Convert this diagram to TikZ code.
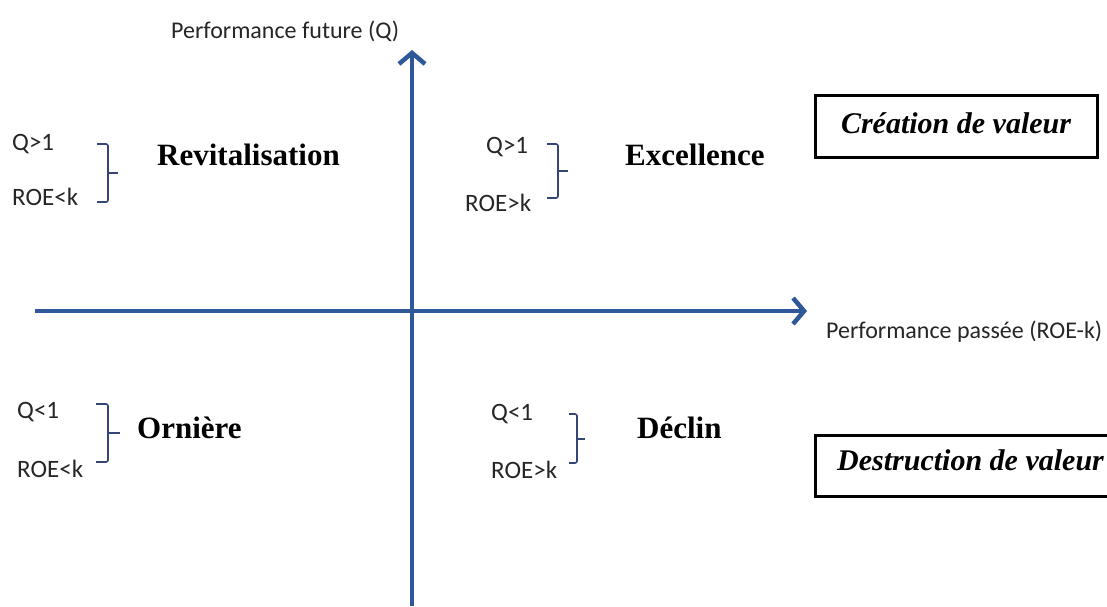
\documentclass[tikz,border=0pt]{standalone}
\usepackage{fontspec}
\usetikzlibrary{arrows.meta}
\newfontfamily\calibfont{Carlito}
\newfontfamily\timesfont{Liberation Serif}
\definecolor{axisblue}{RGB}{47,88,152}
\definecolor{bracecol}{RGB}{52,70,120}
\tikzset{
  axisline/.style={axisblue, line width=4.5pt, -{Straight Barb[length=11pt,width=26pt]}},
  condtext/.style={anchor=base west, inner sep=0pt, font=\calibfont\fontsize{25}{29}\selectfont, text=black!85},
  quadtext/.style={anchor=base west, inner sep=0pt, font=\timesfont\bfseries\fontsize{31}{35}\selectfont},
  axislabel/.style={anchor=base west, inner sep=0pt, font=\calibfont\fontsize{24}{28}\selectfont, text=black!85},
  valuebox/.style={draw=black, line width=3pt},
  valuetext/.style={inner sep=0pt, font=\timesfont\bfseries\itshape\fontsize{30}{34}\selectfont},
  bracket/.style={bracecol, line width=1.6pt, rounded corners=2pt},
}
\begin{document}
\begin{tikzpicture}[x=1pt,y=-1pt]
\useasboundingbox[fill=white] (0,0) rectangle (1107,606);

% axes
\coordinate (ybot) at (412,606);
\coordinate (ytop) at (412,50);
\coordinate (xleft) at (35,311);
\coordinate (xright) at (807,311);
\draw[axisline] (xleft) -- (xright);
\draw[axisline] (ybot) -- (ytop);

% axis labels
\node[axislabel] (ylab) at (171,38) {Performance future (Q)};
\node[axislabel] (xlab) at (826,338) {Performance passée (ROE-k)};

% top-left quadrant
\node[condtext] (tlq) at (12,150) {Q>1};
\node[condtext] (tlr) at (12,205) {ROE<k};
\draw[bracket] (97,144) -- (108,144) -- (108,202) -- (97,202);
\draw[bracket] (108,173) -- (118,173);
\node[quadtext] (revit) at (157,165) {Revitalisation};

% top-right quadrant
\node[condtext] (trq) at (486,153) {Q>1};
\node[condtext] (trr) at (465,211) {ROE>k};
\draw[bracket] (547,144) -- (558,144) -- (558,198) -- (547,198);
\draw[bracket] (558,171) -- (568,171);
\node[quadtext] (excel) at (625,165) {Excellence};

% bottom-left quadrant
\node[condtext] (blq) at (17,418) {Q<1};
\node[condtext] (blr) at (17,477) {ROE<k};
\draw[bracket] (96,404) -- (108,404) -- (108,462) -- (96,462);
\draw[bracket] (108,433) -- (120,433);
\node[quadtext] (orn) at (137,438) {Ornière};

% bottom-right quadrant
\node[condtext] (brq) at (491,420) {Q<1};
\node[condtext] (brr) at (491,478) {ROE>k};
\draw[bracket] (569,414) -- (577,414) -- (577,463) -- (569,463);
\draw[bracket] (577,439) -- (585,439);
\node[quadtext] (decl) at (637,438) {Déclin};

% value boxes
\draw[valuebox] (815,95) rectangle (1097,157);
\node[valuetext] (creation) at (956,123) {Création de valeur};
\draw[valuebox] (815,435) rectangle (1115,496);
\node[valuetext, anchor=base west] (destruction) at (837,470) {Destruction de valeur};
\end{tikzpicture}
\end{document}
